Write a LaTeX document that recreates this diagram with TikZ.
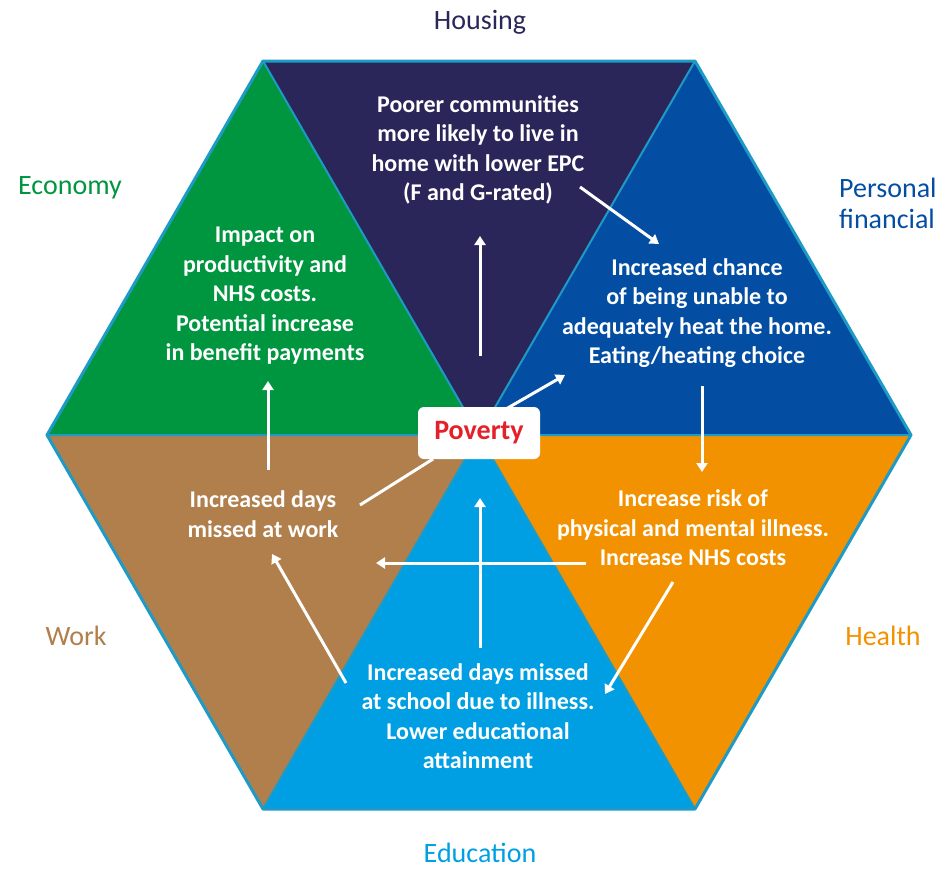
\documentclass[tikz,border=0pt]{standalone}
\usepackage{fontspec}
\setmainfont{Carlito}
\usetikzlibrary{arrows.meta}
\definecolor{housingc}{HTML}{2B2659}
\definecolor{financec}{HTML}{034EA2}
\definecolor{healthc}{HTML}{F39200}
\definecolor{educationc}{HTML}{009FE3}
\definecolor{workc}{HTML}{B07F4C}
\definecolor{economyc}{HTML}{009640}
\definecolor{hexline}{HTML}{1D9BC6}
\definecolor{povertyc}{HTML}{E4202A}
\begin{document}
\begin{tikzpicture}[x=1pt,y=-1pt,
        sector/.style={draw=hexline,line width=2pt,line join=round},
        inner/.style={text=white,font=\bfseries\fontsize{24}{29.5}\selectfont,align=center,inner sep=0pt},
        sectorname/.style={font=\fontsize{28}{31}\selectfont,inner sep=0pt},
        flow/.style={draw=white,line width=3pt,-{Triangle[width=11pt,length=9pt]}},
        plain/.style={draw=white,line width=3pt}]
    \useasboundingbox (0,0) rectangle (946,871);
    % Hexagon corners
    \coordinate (c) at (479,435);
    \coordinate (r) at (911,435);
    \coordinate (tr) at (695,61);
    \coordinate (tl) at (263,61);
    \coordinate (l) at (47,435);
    \coordinate (bl) at (263,809);
    \coordinate (br) at (695,809);
    % Sectors
    \fill[housingc] (c) -- (tl) -- (tr) -- cycle;
    \fill[financec] (c) -- (tr) -- (r) -- cycle;
    \fill[healthc] (c) -- (r) -- (br) -- cycle;
    \fill[educationc] (c) -- (br) -- (bl) -- cycle;
    \fill[workc] (c) -- (bl) -- (l) -- cycle;
    \fill[economyc] (c) -- (l) -- (tl) -- cycle;
    \draw[sector] (tl) -- (br) (tr) -- (bl) (l) -- (r);
    \draw[sector,line width=3pt] (r) -- (tr) -- (tl) -- (l) -- (bl) -- (br) -- cycle;
    % Sector names
    \node[sectorname,text=housingc] (nhousing) at (480,22) {Housing};
    \node[sectorname,text=economyc] (neconomy) at (70,188) {Economy};
    \node[sectorname,text=financec,anchor=west,align=left] (nfinance) at (839,203) {Personal\\financial};
    \node[sectorname,text=workc] (nwork) at (76,636) {Work};
    \node[sectorname,text=healthc] (nhealth) at (883,636) {Health};
    \node[sectorname,text=educationc] (neducation) at (480,853) {Education};
    % Sector texts
    \node[inner] (housing) at (478,150) {Poorer communities\\more likely to live in\\home with lower EPC\\(F and G-rated)};
    \node[inner] (economy) at (265,296) {Impact on\\productivity and\\NHS costs.\\Potential increase\\in benefit payments};
    \node[inner] (finance) at (697,313) {Increased chance\\of being unable to\\adequately heat the home.\\Eating/heating choice};
    \node[inner] (health) at (693,528) {Increase risk of\\physical and mental illness.\\Increase NHS costs};
    \node[inner] (work) at (263,514) {Increased days\\missed at work};
    \node[inner] (education) at (478,716) {Increased days missed\\at school due to illness.\\Lower educational\\attainment};
    \node[fill=white,rounded corners=6pt,minimum width=122pt,minimum height=52pt,
        text=povertyc,font=\bfseries\fontsize{28}{30}\selectfont] (poverty) at (479,433) {Poverty};
    % Arrow ends
    \coordinate (h1) at (480,356);
    \coordinate (h2) at (480,236);
    \coordinate (h3) at (580,187);
    \coordinate (f1) at (659,244);
    \coordinate (p1) at (506,409);
    \coordinate (f2) at (565,375);
    \coordinate (f3) at (702,386);
    \coordinate (he1) at (702,472);
    \coordinate (he2) at (586,563);
    \coordinate (w1) at (376,563);
    \coordinate (he3) at (673,582);
    \coordinate (e1) at (605,694);
    \coordinate (e2) at (480,648);
    \coordinate (e3) at (480,498);
    \coordinate (e4) at (346,683);
    \coordinate (w2) at (272,554);
    \coordinate (w3) at (360,505);
    \coordinate (p2) at (433,459);
    \coordinate (w4) at (268,470);
    \coordinate (ec1) at (268,381);
    % Arrows
    \draw[flow] (h1) -- (h2);
    \draw[flow] (h3) -- (f1);
    \draw[flow] (p1) -- (f2);
    \draw[flow] (f3) -- (he1);
    \draw[flow] (he2) -- (w1);
    \draw[flow] (he3) -- (e1);
    \draw[flow] (e2) -- (e3);
    \draw[flow] (e4) -- (w2);
    \draw[plain] (w3) -- (p2);
    \draw[flow] (w4) -- (ec1);
\end{tikzpicture}
\end{document}
